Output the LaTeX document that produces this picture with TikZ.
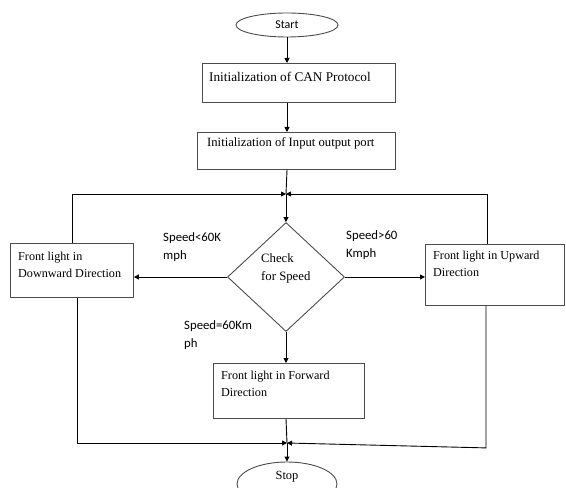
\documentclass[tikz,border=0pt]{standalone}
\usepackage{fontspec}
\setmainfont{Liberation Serif}
\newfontfamily\lblfont{Carlito}
\usetikzlibrary{shapes.geometric,arrows.meta}
\begin{document}
\begin{tikzpicture}[x=1bp,y=-1bp,
  shp/.style={draw=black!70, line width=0.9bp},
  box/.style={shp, rectangle, inner sep=0pt, anchor=north west},
  txt/.style={inner sep=0pt, anchor=north west, align=left, font=\fontsize{12.2}{17}\selectfont},
  lbl/.style={inner sep=0pt, anchor=north west, align=left, font=\lblfont\fontsize{12.8}{18.5}\selectfont},
  conn/.style={draw=black, line width=0.9bp},
  arr/.style={conn, -{Triangle[length=5bp,width=5bp]}},
]
\useasboundingbox (0,0) rectangle (566,488);
% shapes
\node[shp, ellipse, inner sep=0pt, minimum width=102bp, minimum height=24bp, font=\lblfont\fontsize{12}{14}\selectfont] (start) at (287,25) {Start};
\node[box, minimum width=193bp, minimum height=39bp] (can) at (202,63) {};
\node[box, minimum width=198bp, minimum height=37bp] (io) at (197,132) {};
\node[shp, diamond, inner sep=0pt, minimum width=117bp, minimum height=109bp] (chk) at (286,277) {};
\node[box, minimum width=123bp, minimum height=54bp] (down) at (10,243) {};
\node[box, minimum width=139bp, minimum height=61bp] (up) at (425,244) {};
\node[box, minimum width=151bp, minimum height=55bp] (fwd) at (213,363) {};
\node[shp, ellipse, inner sep=0pt, minimum width=100bp, minimum height=44bp] (stop) at (287,484) {};
% texts
\node[txt, font=\fontsize{13.3}{17}\selectfont] (cantxt) at (209,72) {Initialization of CAN Protocol};
\node[txt, font=\fontsize{12.7}{17}\selectfont] (iotxt) at (207,137) {Initialization of Input output port};
\node[txt] (downtxt) at (18,252) {Front light in\\Downward Direction};
\node[txt] (uptxt) at (433,251) {Front light in Upward\\Direction};
\node[txt] (fwdtxt) at (221,371) {Front light in Forward\\Direction};
\node[txt, font=\fontsize{12.8}{19}\selectfont] (chktxt) at (261,253) {Check\\for Speed};
\node[font=\fontsize{12.5}{14}\selectfont, inner sep=0pt] (stoptxt) at (287,477) {Stop};
\node[lbl] (l1) at (163,232) {Speed<60K\\mph};
\node[lbl] (l2) at (346,230) {Speed>60\\Kmph};
\node[lbl] (l3) at (184,320) {Speed=60Km\\ph};
% junctions
\coordinate (j1) at (286,194);
\coordinate (j2) at (287,443);
% connectors
\draw[arr] (start.south) -- (start.south |- can.north);
\draw[arr] (start.south |- can.south) -- (start.south |- io.north);
\draw[conn] (start.south |- io.south) -- (j1);
\draw[arr] (j1) -- (chk.north);
\draw[arr] ([xshift=62bp]down.north west) |- (j1);
\draw[arr] ([xshift=62bp]up.north west) |- (j1);
\draw[arr] (chk.west) -- (chk.west -| down.east);
\draw[arr] (chk.east) -- (chk.east -| up.west);
\draw[arr] (chk.south) -- (chk.south |- fwd.north);
\draw[conn] (chk.south |- fwd.south) -- (j2);
\draw[arr] (j2) -- (stop.north);
\draw[arr] ([xshift=67bp]down.south west) |- (j2);
\draw[arr] ([xshift=61bp]up.south west) -- ++(0,142) -- (j2);
\end{tikzpicture}
\end{document}
